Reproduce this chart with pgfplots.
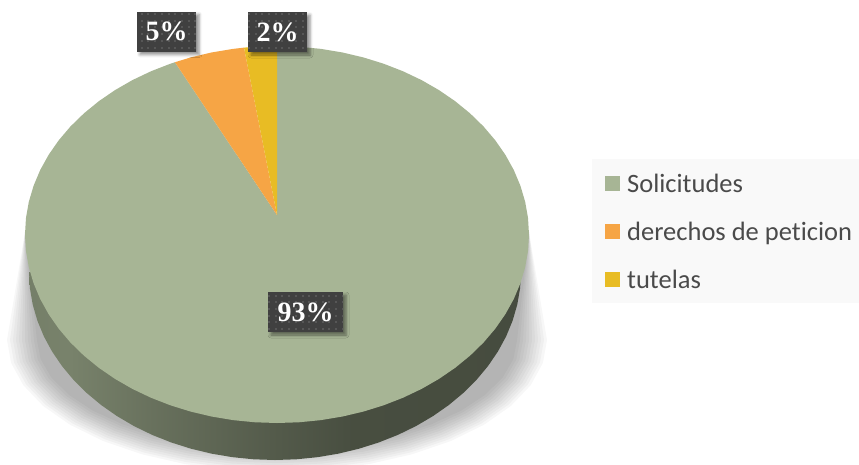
\documentclass[border=0pt]{standalone}
\usepackage{fontspec}
\setmainfont{Liberation Serif}
\newfontfamily\legfont[Ligatures=NoCommon]{Carlito}
\usepackage{pgfplots}
\usepackage{pgfplotstable}
\pgfplotsset{compat=1.18}
\usetikzlibrary{patterns,shadows.blur}
\definecolor{cGreen}{HTML}{A7B595}
\definecolor{cOrange}{HTML}{F6A545}
\definecolor{cYellow}{HTML}{E8BC24}
\definecolor{cBox}{HTML}{404040}
\definecolor{cDot}{HTML}{565656}
\definecolor{cLegBg}{HTML}{F9F9F9}
\definecolor{cLegTx}{HTML}{4A4A4A}
\pgfdeclarehorizontalshading{sideh}{100bp}{
 color(0bp)=(cGreen!70!black);
 color(25bp)=(cGreen!70!black);
 color(29bp)=(cGreen!72!black);
 color(38bp)=(cGreen!62!black);
 color(50bp)=(cGreen!50!black);
 color(58bp)=(cGreen!43!black);
 color(75bp)=(cGreen!42!black);
 color(100bp)=(cGreen!42!black)}
\pgfdeclarepatternformonly{boxdots}{\pgfqpoint{-1pt}{-1pt}}{\pgfqpoint{6pt}{6pt}}{\pgfqpoint{6.7pt}{6.7pt}}{%
 \pgfpathrectangle{\pgfqpoint{0pt}{0pt}}{\pgfqpoint{2pt}{2pt}}\pgfusepath{fill}}
% pie slices, as (sin, cos) of the rim points; the first row is the apex
\pgfplotstableread{
s c
0 .1034
0 1
.0872 .9962
.1736 .9848
.2588 .9659
.3420 .9397
.4226 .9063
.5 .8660
.5736 .8192
.6428 .7660
.7071 .7071
.7660 .6428
.8192 .5736
.8660 .5
.9063 .4226
.9397 .3420
.9659 .2588
.9848 .1736
.9962 .0872
1 0
.9962 -.0872
.9848 -.1736
.9659 -.2588
.9397 -.3420
.9063 -.4226
.8660 -.5
.8192 -.5736
.7660 -.6428
.7071 -.7071
.6428 -.7660
.5736 -.8192
.5 -.8660
.4226 -.9063
.3420 -.9397
.2588 -.9659
.1736 -.9848
.0872 -.9962
0 -1
-.0872 -.9962
-.1736 -.9848
-.2588 -.9659
-.3420 -.9397
-.4226 -.9063
-.5 -.8660
-.5736 -.8192
-.6428 -.7660
-.7071 -.7071
-.7660 -.6428
-.8192 -.5736
-.8660 -.5
-.9063 -.4226
-.9397 -.3420
-.9659 -.2588
-.9848 -.1736
-.9962 -.0872
-1 0
-.9962 .0872
-.9848 .1736
-.9659 .2588
-.9397 .3420
-.9063 .4226
-.8660 .5
-.8192 .5736
-.7660 .6428
-.7071 .7071
-.6428 .7660
-.5736 .8192
-.5 .8660
-.4226 .9063
-.405 .914
}\sliceA
\pgfplotstableread{
s c
0 .1034
-.405 .914
-.3420 .9397
-.2588 .9659
-.1736 .9848
-.131 .9914
}\sliceB
\pgfplotstableread{
s c
0 .1034
-.131 .9914
-.0872 .9962
0 1
}\sliceC
% lower half of the rim of the pie's underside
\pgfplotstableread{
s c
1 0
.9962 -.0872
.9848 -.1736
.9659 -.2588
.9397 -.3420
.9063 -.4226
.8660 -.5
.8192 -.5736
.7660 -.6428
.7071 -.7071
.6428 -.7660
.5736 -.8192
.5 -.8660
.4226 -.9063
.3420 -.9397
.2588 -.9659
.1736 -.9848
.0872 -.9962
0 -1
-.0872 -.9962
-.1736 -.9848
-.2588 -.9659
-.3420 -.9397
-.4226 -.9063
-.5 -.8660
-.5736 -.8192
-.6428 -.7660
-.7071 -.7071
-.7660 -.6428
-.8192 -.5736
-.8660 -.5
-.9063 -.4226
-.9397 -.3420
-.9659 -.2588
-.9848 -.1736
-.9962 -.0872
-1 0
}\under
% soft shadow outline: f=1 rows are fixed offsets
\pgfplotstableread{
s c f
-252 108 1
-1 0 0
-.9848 -.1736 0
-.9397 -.3420 0
-.8660 -.5 0
-.7660 -.6428 0
-.6428 -.7660 0
-.5 -.8660 0
-.3420 -.9397 0
-.1736 -.9848 0
0 -1 0
.1736 -.9848 0
.3420 -.9397 0
.5 -.8660 0
.6428 -.7660 0
.7660 -.6428 0
.8660 -.5 0
.9397 -.3420 0
.9848 -.1736 0
1 0 0
252 108 1
}\shadowrim
\tikzset{lab/.style={font=\bfseries\fontsize{28}{29}\selectfont,text=white,fill=cBox,inner sep=0pt,
  minimum height=40pt,
  blur shadow={shadow xshift=3pt,shadow yshift=-3pt,shadow blur radius=3pt,shadow opacity=45},
  postaction={pattern=boxdots,pattern color=cDot}}}
\begin{document}
\begin{tikzpicture}
\useasboundingbox (0,0) rectangle (859pt,464pt);
\begin{axis}[
  at={(0,0)},anchor=south west,
  scale only axis,width=859pt,height=464pt,
  xmin=0,xmax=859,ymin=0,ymax=464,y dir=reverse,
  hide axis,clip=true,
  legend cell align=left,
  legend image code/.code={\fill[#1] (0pt,-7.5pt) rectangle (15pt,7.5pt);},
  legend style={at={(592/859,1-159/464)},anchor=north west,fill=cLegBg,draw=none,
    font=\legfont\fontsize{26.5}{30}\selectfont,text=cLegTx,
    inner xsep=13pt,inner ysep=12.5pt,row sep=25pt,
    nodes={inner xsep=7pt,inner ysep=0pt,text height=21pt,text depth=2pt}},
]
% shadow
\pgfplotsinvokeforeach{0,0.1,0.2,0.3,0.4,0.5,0.6,0.7,0.8,0.9,1}{
\addplot[forget plot,draw=none,fill=black,fill opacity=.03] table[
  x expr={277+\thisrow{s}*(\thisrow{f}+(1-\thisrow{f})*(240+30*#1))},
  y expr={340-\thisrow{c}*(\thisrow{f}+(1-\thisrow{f})*(110+22*#1))}] {\shadowrim};
}
% side
\addplot[forget plot,draw=none,shade,shading=sideh] table[
  x expr={275+246*\thisrow{s}},y expr={272-188*\thisrow{c}}] {\under};
% slices
\addplot[draw=none,fill=cGreen] table[x expr={277+252*\thisrow{s}},y expr={234.5-188.5*\thisrow{c}}] {\sliceA};
\addlegendentry{Solicitudes}
\addplot[draw=none,fill=cOrange] table[x expr={277+252*\thisrow{s}},y expr={234.5-188.5*\thisrow{c}}] {\sliceB};
\addlegendentry{derechos de peticion}
\addplot[draw=none,fill=cYellow] table[x expr={277+252*\thisrow{s}},y expr={234.5-188.5*\thisrow{c}}] {\sliceC};
\addlegendentry{tutelas}
\node[lab,minimum width=59pt] at (axis cs:166.5,31.5) {5\%};
\node[lab,minimum width=59pt] at (axis cs:277.5,32) {2\%};
\node[lab,minimum width=75pt] at (axis cs:305.5,312) {93\%};
\end{axis}
\end{tikzpicture}
\end{document}
